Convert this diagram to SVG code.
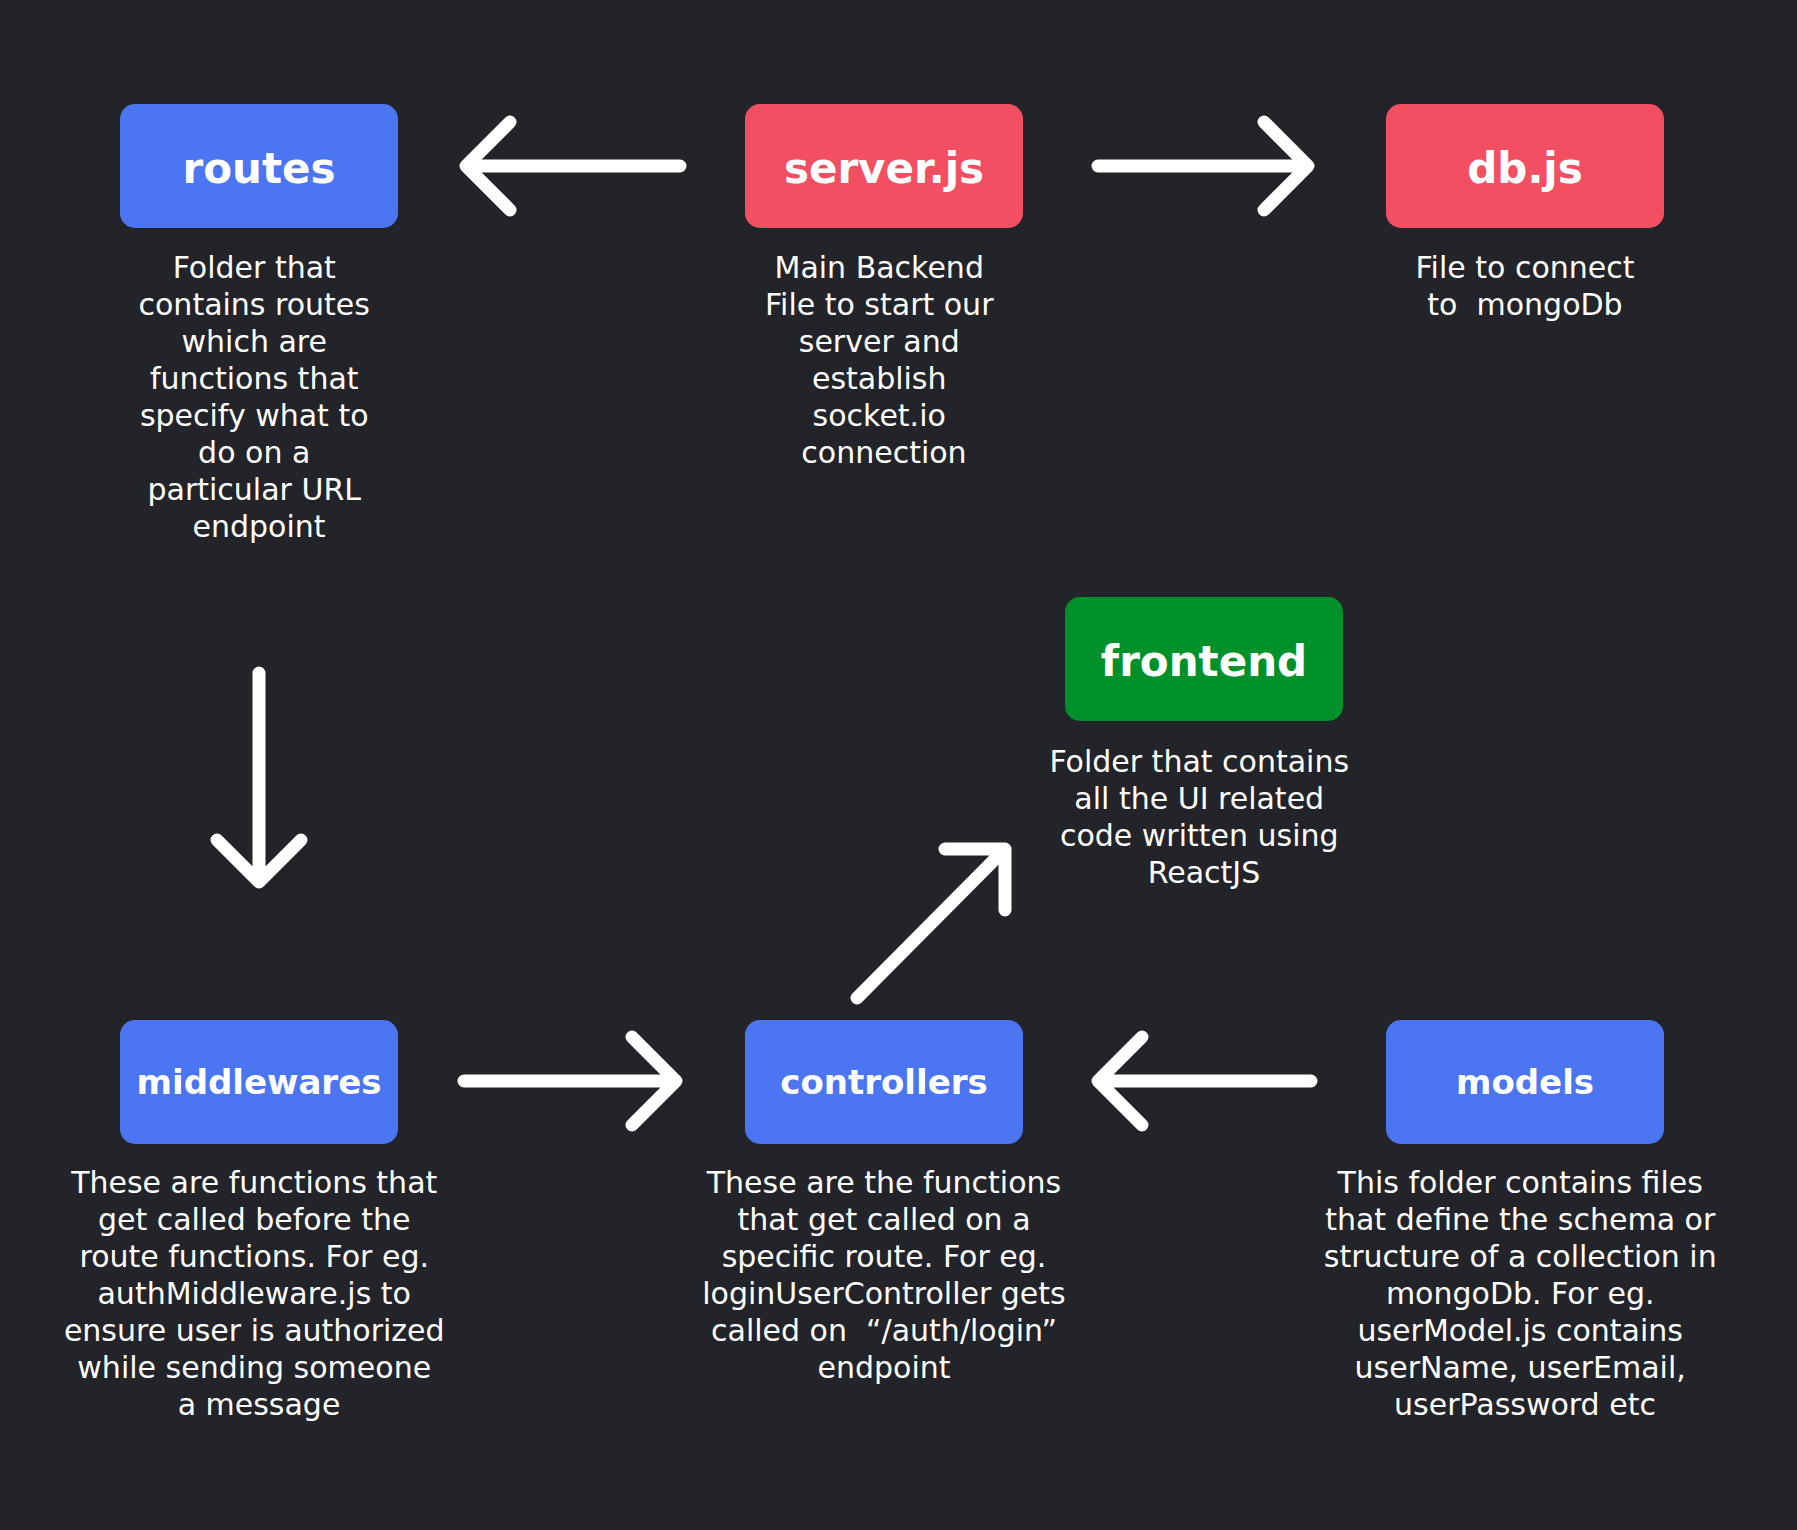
<svg xmlns="http://www.w3.org/2000/svg" width="1797" height="1530" viewBox="0 0 1797 1530">
<style>
.bg{fill:#232429}
.blue{fill:#4C75F2}
.red{fill:#F34F63}
.green{fill:#01912A}
.lbl{font-family:"DejaVu Sans","Liberation Sans",sans-serif;font-weight:bold;fill:#ffffff;text-anchor:middle}
.big{font-size:42px}
.small{font-size:34px}
.desc{font-family:"DejaVu Sans","Liberation Sans",sans-serif;font-size:30px;fill:#ffffff;text-anchor:middle}
.arrow{fill:none;stroke:#ffffff;stroke-width:13;stroke-linecap:round;stroke-linejoin:round}
</style>
<rect class="bg" x="0" y="0" width="1797" height="1530"/>

<g id="connectors">
  <path class="arrow" d="M680,166 H466 M510,122 L466,166 L510,210"/>
  <path class="arrow" d="M1098,166 H1308 M1264,122 L1308,166 L1264,210"/>
  <path class="arrow" d="M259,673 V882 M217,840 L259,882 L301,840"/>
  <path class="arrow" d="M464,1081 H676 M632,1037 L676,1081 L632,1125"/>
  <path class="arrow" d="M1311,1081 H1098 M1142,1037 L1098,1081 L1142,1125"/>
  <path class="arrow" d="M857,998 L1005,849 M945,849 H1005 V910"/>
</g>

<g id="routes">
  <rect class="blue" x="120" y="104" width="278" height="124" rx="15"/>
  <text class="lbl big" x="259" y="183">routes</text>
  <text class="desc">
    <tspan x="259" y="278">Folder that</tspan>
    <tspan x="259" y="315">contains routes</tspan>
    <tspan x="259" y="352">which are</tspan>
    <tspan x="259" y="389">functions that</tspan>
    <tspan x="259" y="426">specify what to</tspan>
    <tspan x="259" y="463">do on a</tspan>
    <tspan x="259" y="500">particular URL</tspan>
    <tspan x="259" y="537">endpoint</tspan>
  </text>
</g>

<g id="server">
  <rect class="red" x="745" y="104" width="278" height="124" rx="15"/>
  <text class="lbl big" x="884" y="183">server.js</text>
  <text class="desc">
    <tspan x="884" y="278">Main Backend</tspan>
    <tspan x="884" y="315">File to start our</tspan>
    <tspan x="884" y="352">server and</tspan>
    <tspan x="884" y="389">establish</tspan>
    <tspan x="884" y="426">socket.io</tspan>
    <tspan x="884" y="463">connection</tspan>
  </text>
</g>

<g id="db">
  <rect class="red" x="1386" y="104" width="278" height="124" rx="15"/>
  <text class="lbl big" x="1525" y="183">db.js</text>
  <text class="desc" xml:space="preserve"><tspan x="1525" y="278">File to connect</tspan><tspan x="1525" y="315">to  mongoDb</tspan></text>
</g>

<g id="frontend">
  <rect class="green" x="1065" y="597" width="278" height="124" rx="15"/>
  <text class="lbl big" x="1204" y="676">frontend</text>
  <text class="desc">
    <tspan x="1204" y="772">Folder that contains</tspan>
    <tspan x="1204" y="809">all the UI related</tspan>
    <tspan x="1204" y="846">code written using</tspan>
    <tspan x="1204" y="883">ReactJS</tspan>
  </text>
</g>

<g id="middlewares">
  <rect class="blue" x="120" y="1020" width="278" height="124" rx="15"/>
  <text class="lbl small" x="259" y="1094">middlewares</text>
  <text class="desc">
    <tspan x="259" y="1193">These are functions that</tspan>
    <tspan x="259" y="1230">get called before the</tspan>
    <tspan x="259" y="1267">route functions. For eg.</tspan>
    <tspan x="259" y="1304">authMiddleware.js to</tspan>
    <tspan x="259" y="1341">ensure user is authorized</tspan>
    <tspan x="259" y="1378">while sending someone</tspan>
    <tspan x="259" y="1415">a message</tspan>
  </text>
</g>

<g id="controllers">
  <rect class="blue" x="745" y="1020" width="278" height="124" rx="15"/>
  <text class="lbl small" x="884" y="1094">controllers</text>
  <text class="desc" xml:space="preserve"><tspan x="884" y="1193">These are the functions</tspan><tspan x="884" y="1230">that get called on a</tspan><tspan x="884" y="1267">specific route. For eg.</tspan><tspan x="884" y="1304">loginUserController gets</tspan><tspan x="884" y="1341">called on  “/auth/login”</tspan><tspan x="884" y="1378">endpoint</tspan></text>
</g>

<g id="models">
  <rect class="blue" x="1386" y="1020" width="278" height="124" rx="15"/>
  <text class="lbl small" x="1525" y="1094">models</text>
  <text class="desc">
    <tspan x="1525" y="1193">This folder contains files</tspan>
    <tspan x="1525" y="1230">that define the schema or</tspan>
    <tspan x="1525" y="1267">structure of a collection in</tspan>
    <tspan x="1525" y="1304">mongoDb. For eg.</tspan>
    <tspan x="1525" y="1341">userModel.js contains</tspan>
    <tspan x="1525" y="1378">userName, userEmail,</tspan>
    <tspan x="1525" y="1415">userPassword etc</tspan>
  </text>
</g>
</svg>
